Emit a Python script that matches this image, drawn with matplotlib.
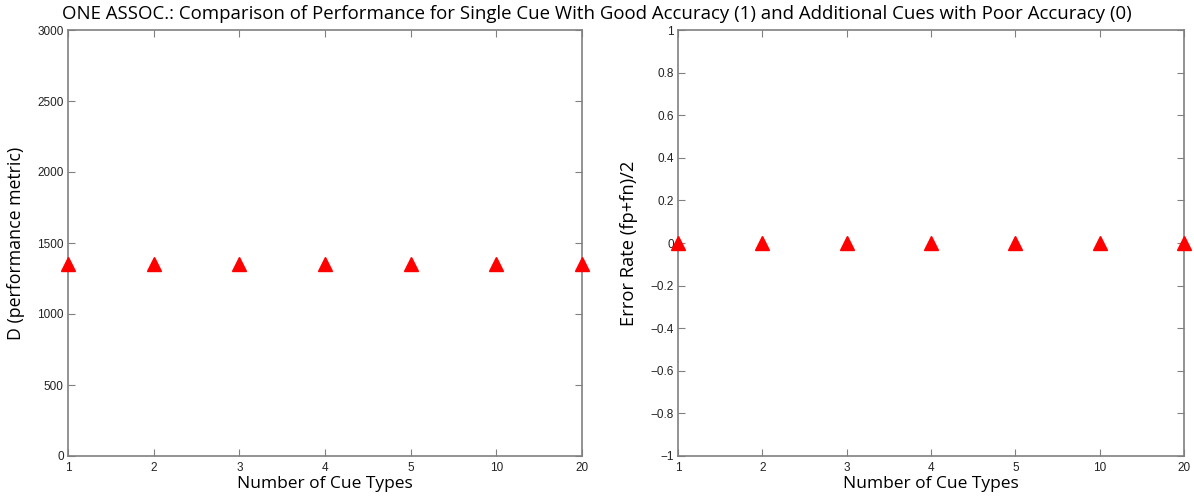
import matplotlib
matplotlib.use("Agg")
import matplotlib.pyplot as plt

# data
cue_types = ["1", "2", "3", "4", "5", "10", "20"]
d_metric = [1350, 1350, 1350, 1350, 1350, 1350, 1350]
error_rate = [0, 0, 0, 0, 0, 0, 0]

label_font = "Open Sans"
tick_font = "Liberation Sans"
axis_gray = "#808080"

fig = plt.figure(figsize=(11.94, 4.97), dpi=100)
ax1 = fig.add_axes([68 / 1194, 1 - 456 / 497, 514 / 1194, 426 / 497])
ax2 = fig.add_axes([678 / 1194, 1 - 456 / 497, 506 / 1194, 426 / 497])

x = list(range(len(cue_types)))

ax1.plot(x, d_metric, linestyle="none", marker="^", color="red", markersize=10,
         clip_on=False, zorder=5)
ax1.set_ylim(0, 3000)
ax1.set_yticks(range(0, 3001, 500))
ax1.set_ylabel("D (performance metric)", fontfamily=label_font, fontsize=12.8,
               labelpad=9)

ax2.plot(x, error_rate, linestyle="none", marker="^", color="red", markersize=10,
         clip_on=False, zorder=5)
ax2.set_ylim(-1, 1)
ax2.set_yticks([-1, -0.8, -0.6, -0.4, -0.2, 0, 0.2, 0.4, 0.6, 0.8, 1])
ax2.set_yticklabels(["\u22121", "\u22120.8", "\u22120.6", "\u22120.4", "\u22120.2", "0",
                     "0.2", "0.4", "0.6", "0.8", "1"])
ax2.set_ylabel("Error Rate (fp+fn)/2", fontfamily=label_font, fontsize=13.2,
               labelpad=9)

for ax in (ax1, ax2):
    ax.set_xlim(0, len(cue_types) - 1)
    ax.set_xticks(x)
    ax.set_xticklabels(cue_types)
    ax.set_xlabel("Number of Cue Types", fontfamily=label_font, fontsize=12.5, labelpad=2)
    ax.tick_params(direction="in", top=True, right=True, length=5, width=0.8,
                   color=axis_gray, labelsize=8.5, labelcolor="#222222")
    ax.tick_params(axis="x", pad=4)
    ax.tick_params(axis="y", pad=3)
    for lab in ax.get_xticklabels() + ax.get_yticklabels():
        lab.set_fontfamily(tick_font)
    for sp in ax.spines.values():
        sp.set_color(axis_gray)
        sp.set_linewidth(1.2)

fig.text(0.5, 0.99,
         "ONE ASSOC.: Comparison of Performance for Single Cue With Good Accuracy (1) "
         "and Additional Cues with Poor Accuracy (0)",
         ha="center", va="top", fontfamily=label_font, fontsize=13.4)

fig.savefig("out.png", dpi=100)
